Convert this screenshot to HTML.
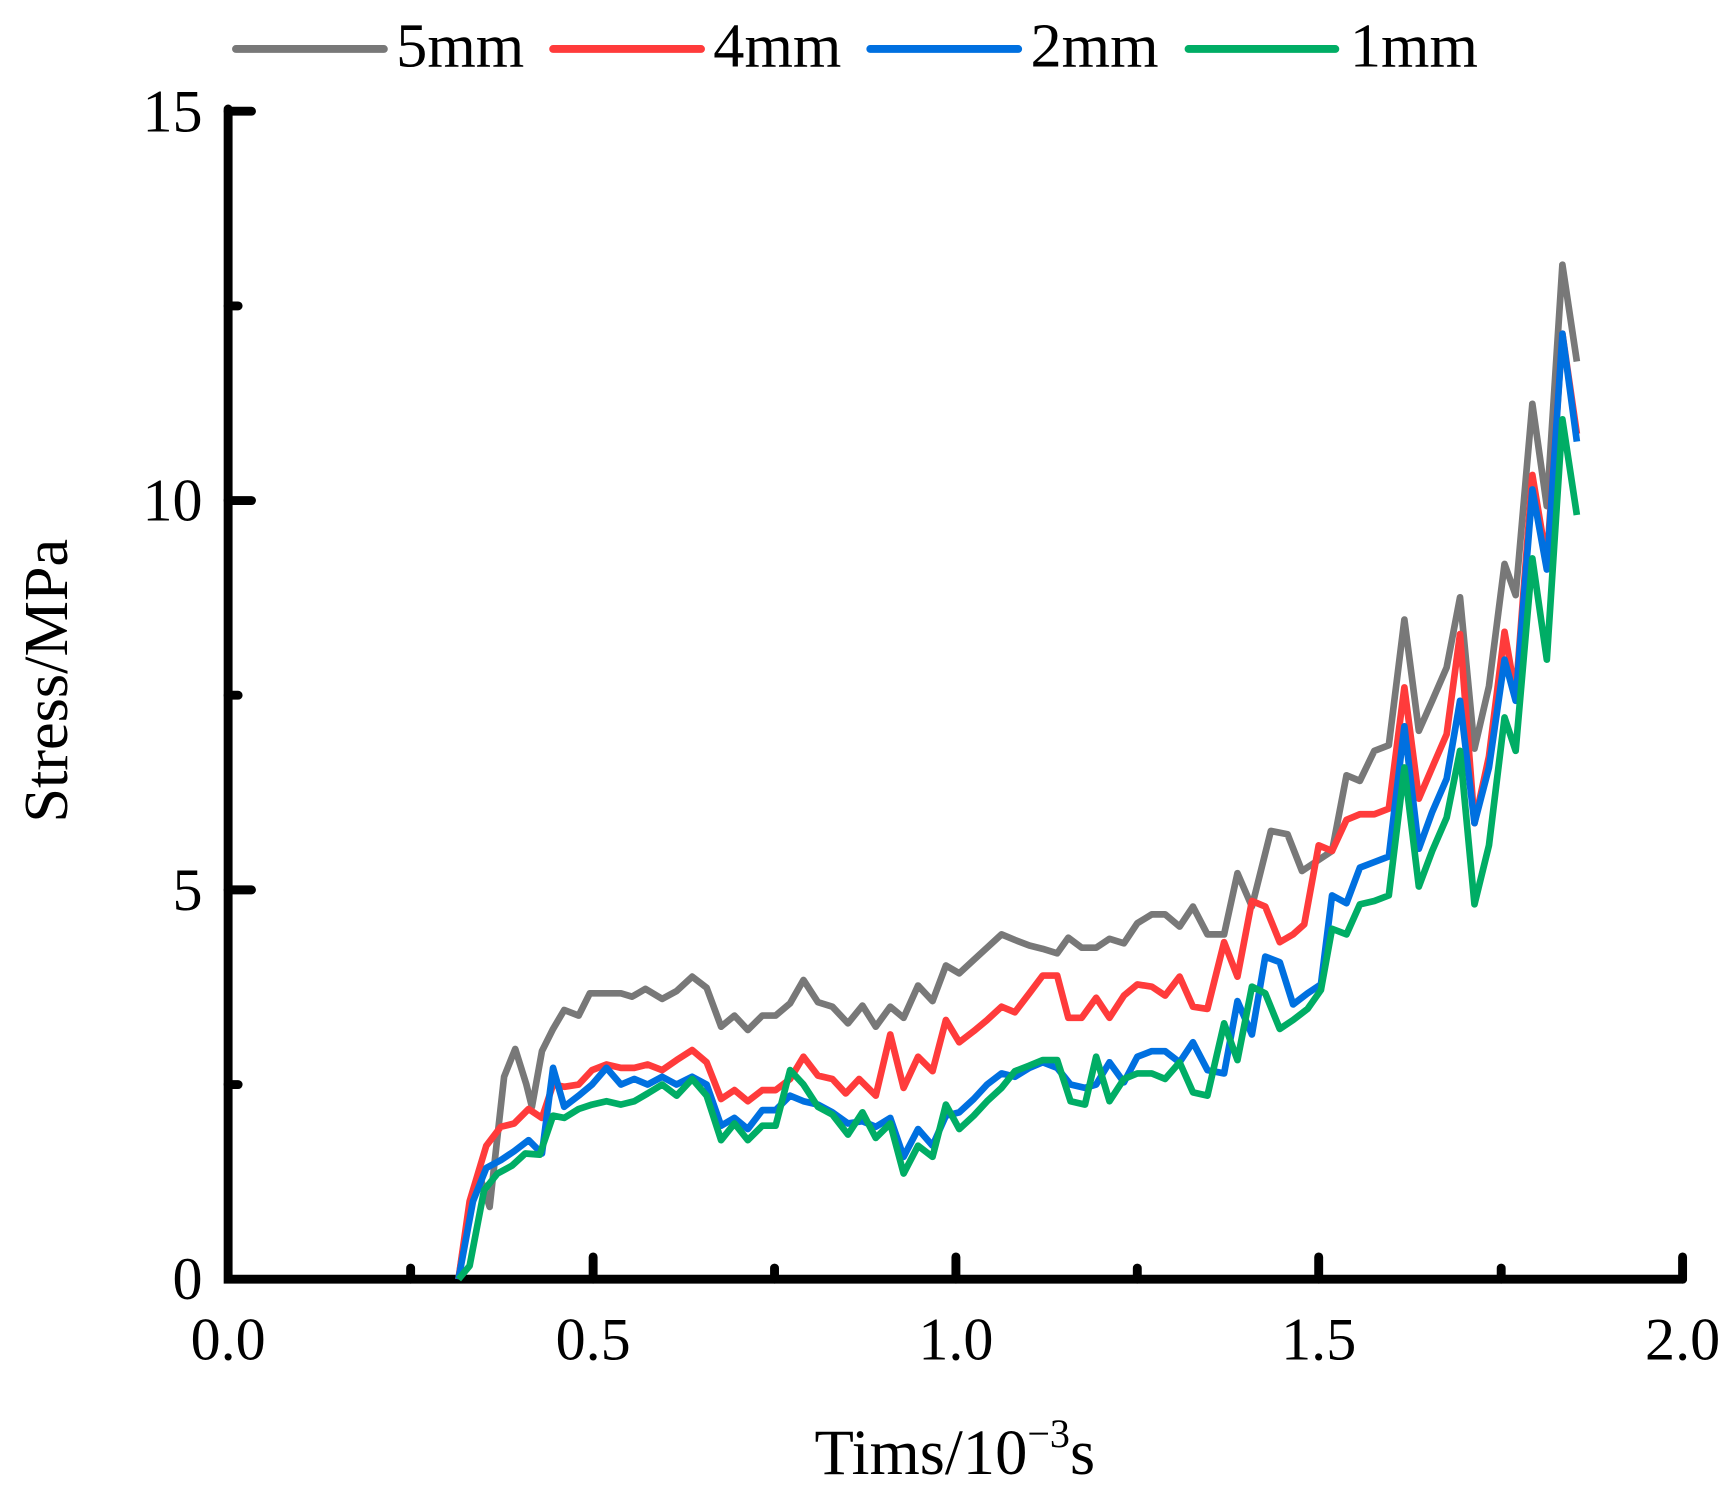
<!DOCTYPE html>
<html><head><style>html,body{margin:0;padding:0;background:#fff;}svg{display:block}</style></head>
<body>
<svg width="1736" height="1495" viewBox="0 0 1560 1344" preserveAspectRatio="none" xmlns="http://www.w3.org/2000/svg" font-family="Liberation Serif, serif">
<rect width="1560" height="1344" fill="#fff"/>
<g stroke="#000" stroke-width="8" stroke-linecap="round" fill="none">
<path d="M205,98 V1150 H1512"/>
<path d="M205,100 H226 M205,450 H226 M205,800 H226 M205,275 H214 M205,625 H214 M205,975 H214"/>
<path d="M533,1150 V1130 M859,1150 V1130 M1185,1150 V1130 M1512,1150 V1130 M369,1150 V1140 M696,1150 V1140 M1022,1150 V1140 M1349,1150 V1140"/>
</g>
<g font-size="54" fill="#000">
<text x="182" y="118" text-anchor="end">15</text>
<text x="182" y="468" text-anchor="end">10</text>
<text x="182" y="818" text-anchor="end">5</text>
<text x="182" y="1168" text-anchor="end">0</text>
<text x="205" y="1222" text-anchor="middle">0.0</text>
<text x="533" y="1222" text-anchor="middle">0.5</text>
<text x="859" y="1222" text-anchor="middle">1.0</text>
<text x="1185" y="1222" text-anchor="middle">1.5</text>
<text x="1512" y="1222" text-anchor="middle">2.0</text>
<text x="858" y="1325" text-anchor="middle" font-size="58">Tims/10<tspan font-size="36" dy="-24">−3</tspan><tspan dy="24">s</tspan></text>
<text transform="translate(60,612) rotate(-90)" text-anchor="middle" font-size="56">Stress/MPa</text>
<text x="356" y="60" font-size="56">5mm</text>
<text x="641" y="60" font-size="56">4mm</text>
<text x="926" y="60" font-size="56">2mm</text>
<text x="1213" y="60" font-size="56">1mm</text>
</g>
<g stroke-width="7" stroke-linecap="round">
<path d="M212,44 H345" stroke="#787878"/>
<path d="M497,44 H630" stroke="#ff3b3b"/>
<path d="M782,44 H915" stroke="#0070e0"/>
<path d="M1068,44 H1200" stroke="#00ad65"/>
</g>
<g fill="none" stroke-width="6" stroke-linejoin="round">
<polyline stroke="#787878" points="412,1150 422,1085 432,1060 440,1085 453,968 463,943 473,975 478,995 487,945 497,925 507,908 520,913 530,893 545,893 558,893 568,896 580,889 595,898 608,891 622,878 635,888 648,923 660,913 672,926 685,913 697,913 710,902 722,881 735,901 748,905 762,920 775,904 787,923 800,905 812,915 825,886 838,900 850,868 862,875 875,863 887,852 900,840 912,845 925,850 937,853 950,857 960,843 972,852 985,852 997,844 1010,848 1022,830 1035,822 1047,822 1060,833 1072,815 1085,840 1100,840 1112,785 1125,815 1142,747 1157,750 1170,783 1185,773 1197,765 1210,697 1222,702 1235,675 1248,670 1262,557 1275,657 1287,630 1300,600 1312,537 1325,673 1338,617 1352,507 1362,535 1377,363 1390,455 1404,238 1417,325"/>
<polyline stroke="#ff3b3b" points="412,1150 422,1080 437,1030 450,1013 462,1010 475,997 487,1005 497,975 507,977 520,975 532,962 545,957 558,960 570,960 582,957 595,962 608,953 622,944 635,955 648,988 660,980 672,990 685,980 697,980 710,970 722,950 735,967 748,970 760,983 772,970 787,985 800,930 812,978 825,950 838,963 850,917 862,937 875,927 887,917 900,905 912,910 925,893 937,877 950,877 960,915 972,915 985,897 997,915 1010,895 1022,885 1035,887 1047,895 1060,878 1072,905 1085,907 1100,847 1112,878 1125,810 1137,815 1150,847 1162,840 1172,831 1185,760 1197,765 1210,737 1222,732 1235,732 1248,727 1262,618 1275,718 1287,690 1300,660 1312,570 1325,740 1338,680 1352,568 1362,625 1377,427 1390,505 1404,300 1417,390"/>
<polyline stroke="#0070e0" points="412,1150 425,1080 437,1050 450,1043 462,1035 475,1025 487,1037 497,960 507,995 520,985 532,975 545,960 558,975 570,970 582,975 595,968 608,975 622,968 635,975 648,1012 660,1005 672,1015 685,998 697,998 710,985 722,990 735,993 748,1000 762,1010 775,1008 787,1013 800,1005 812,1040 825,1015 838,1030 850,1003 862,1000 875,988 887,975 900,965 912,968 925,960 937,955 950,960 962,975 975,978 985,975 997,955 1010,973 1022,950 1035,945 1047,945 1060,955 1072,937 1085,962 1100,965 1112,900 1125,930 1137,860 1150,865 1162,903 1175,893 1187,885 1197,805 1210,812 1222,780 1235,775 1248,770 1262,653 1275,763 1287,730 1300,700 1312,630 1325,740 1338,690 1352,593 1362,630 1377,440 1390,512 1404,300 1417,397"/>
<polyline stroke="#00ad65" points="412,1150 422,1138 435,1070 447,1055 460,1048 472,1037 485,1038 497,1003 507,1005 520,997 532,993 545,990 558,993 570,990 582,983 595,975 608,985 622,970 635,985 648,1025 660,1010 672,1025 685,1012 697,1012 710,962 722,975 735,995 748,1002 762,1020 775,1000 787,1023 800,1010 812,1055 825,1030 838,1040 850,993 862,1015 875,1003 887,990 900,978 912,963 925,958 937,953 950,953 962,990 975,993 985,950 997,990 1010,970 1022,965 1035,965 1047,970 1060,955 1072,982 1085,985 1100,920 1112,953 1125,887 1137,893 1150,925 1162,917 1175,907 1187,890 1197,835 1210,840 1222,813 1235,810 1248,805 1262,690 1275,797 1287,765 1300,735 1312,675 1325,813 1338,760 1352,645 1362,675 1377,502 1390,593 1404,377 1417,463"/>
</g>
</svg>
</body></html>
